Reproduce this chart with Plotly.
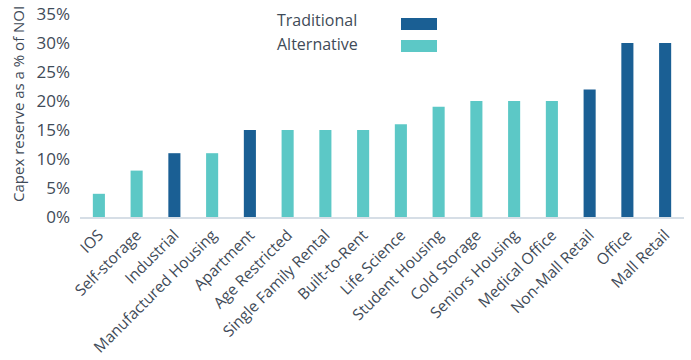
import plotly.graph_objects as go

categories = ["IOS", "Self-storage", "Industrial", "Manufactured Housing", "Apartment",
              "Age Restricted", "Single Family Rental", "Built-to-Rent", "Life Science",
              "Student Housing", "Cold Storage", "Seniors Housing", "Medical Office",
              "Non-Mall Retail", "Office", "Mall Retail"]
values = [4, 8, 11, 11, 15, 15, 15, 15, 16, 19, 20, 20, 20, 22, 30, 30]
groups = ["Alternative", "Alternative", "Traditional", "Alternative", "Traditional",
          "Alternative", "Alternative", "Alternative", "Alternative", "Alternative",
          "Alternative", "Alternative", "Alternative", "Traditional", "Traditional", "Traditional"]
y_ticks = [0, 5, 10, 15, 20, 25, 30, 35]
y_ticklabels = [f"{v}%" for v in y_ticks]

colors = {"Traditional": "#1a5f94", "Alternative": "#5cc8c6"}
text_color = "#3f4b58"

fig = go.Figure()
for g in ["Traditional", "Alternative"]:
    xs = [c for c, gg in zip(categories, groups) if gg == g]
    ys = [v for v, gg in zip(values, groups) if gg == g]
    fig.add_trace(go.Bar(x=xs, y=ys, name=g, marker_color=colors[g],
                         marker_line_width=0, width=0.32, showlegend=False))

L, R, T, B = 80, 7, 14, 143
H = 360 - T - B
W = 691 - L - R
fig.update_layout(
    width=691, height=360,
    margin=dict(l=L, r=R, t=T, b=B),
    paper_bgcolor="white", plot_bgcolor="white",
    barmode="overlay",
    font=dict(family="Open Sans", color=text_color),
)
fig.update_xaxes(categoryorder="array", categoryarray=categories, automargin=False,
                 tickangle=-45, tickfont=dict(family="Open Sans", size=15.5, color=text_color),
                 showline=True, linecolor="#d6dee6", linewidth=2, ticks="",
                 ticklabelstandoff=1, showgrid=False)
fig.update_yaxes(range=[0, 35], tickvals=y_ticks, ticktext=y_ticklabels, automargin=False,
                 tickfont=dict(family="Open Sans", size=17, color=text_color),
                 ticklabelstandoff=9,
                 showgrid=False, zeroline=False, showline=False, ticks="")

def py(pix):
    return (360 - B - pix) / H

def px(pix):
    return (pix - L) / W

fig.add_annotation(xref="paper", yref="paper", x=px(18), y=py(104),
                   text="Capex reserve as a % of NOI", textangle=-90, showarrow=False,
                   xanchor="center", yanchor="middle",
                   font=dict(family="Open Sans", size=15, color=text_color))

# custom legend: text left, swatch right
leg = [("Traditional", 20, 24), ("Alternative", 44, 46)]
for name, ty, by in leg:
    fig.add_annotation(xref="paper", yref="paper", x=px(275), y=py(ty),
                       text=name, showarrow=False, xanchor="left", yanchor="middle",
                       font=dict(family="Open Sans", size=16, color=text_color))
    fig.add_shape(type="rect", xref="paper", yref="paper",
                  x0=px(401), x1=px(437), y0=py(by + 6), y1=py(by - 6),
                  fillcolor=colors[name], line_width=0)

fig.write_html("out.html")
